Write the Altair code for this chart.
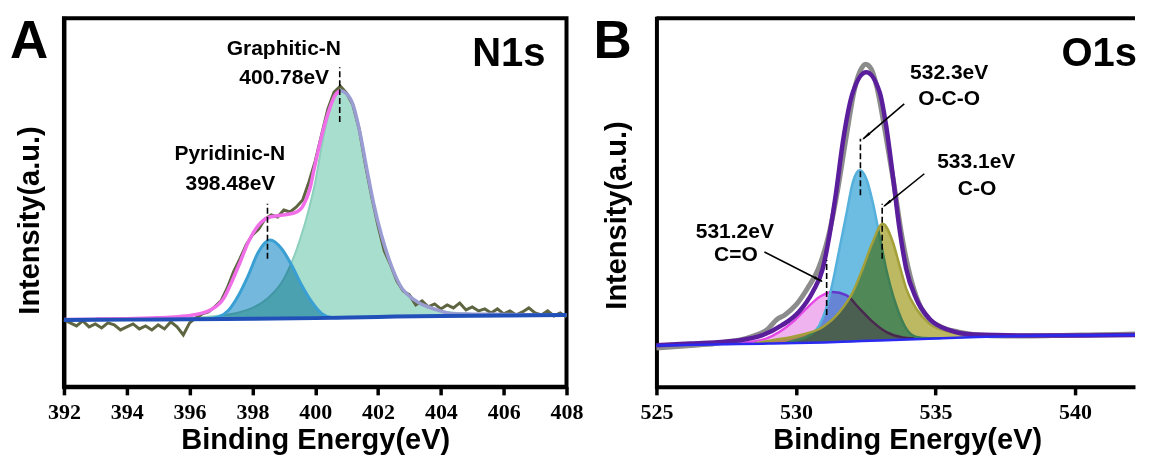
import math
import altair as alt
import pandas as pd

# ---------------- Panel A : N1s ----------------
A_XDOM = [392, 408]
A_XTICKS = [392, 394, 396, 398, 400, 402, 404, 406, 408]
A_WIDTH = 503
H = 369
Y_DOM = [0, 369]

A_BASE = [(392.0, 67.0), (394.0, 67.3), (396.0, 67.7), (398.0, 68.2), (400.0, 68.8),
          (402.0, 70.0), (404.0, 71.0), (406.0, 71.5), (408.0, 72.0)]

A_RAW = [(392.0, 67), (392.2, 64), (392.4, 61), (392.6, 66), (392.8, 60), (393.0, 63),
         (393.2, 59), (393.4, 64), (393.6, 62), (393.8, 57), (394.0, 60), (394.2, 63),
         (394.4, 58), (394.6, 61), (394.8, 57), (395.0, 62), (395.2, 58), (395.4, 65),
         (395.6, 60), (395.8, 52), (396.0, 64), (396.2, 69), (396.4, 73), (396.6, 75),
         (396.8, 80), (397.0, 86), (397.2, 99), (397.4, 115), (397.6, 128), (397.8, 142),
         (398.0, 152), (398.2, 158), (398.4, 168), (398.6, 172), (398.8, 170), (399.0, 177),
         (399.2, 175), (399.4, 180), (399.6, 187), (399.8, 205), (400.0, 226), (400.2, 252),
         (400.4, 278), (400.6, 295), (400.8, 301), (401.0, 294), (401.2, 282), (401.4, 258),
         (401.6, 222), (401.8, 190), (402.0, 161), (402.2, 136), (402.4, 122), (402.6, 106),
         (402.8, 96), (403.0, 92), (403.2, 82), (403.4, 86), (403.6, 80), (403.8, 83),
         (404.0, 78), (404.2, 82), (404.4, 79), (404.6, 84), (404.8, 77), (405.0, 80),
         (405.2, 76), (405.4, 78), (405.6, 74), (405.8, 78), (406.0, 73), (406.2, 76),
         (406.4, 72), (406.6, 75), (406.8, 79), (407.0, 74), (407.2, 72), (407.4, 76),
         (407.6, 71), (407.8, 74), (408.0, 70)]

A_ENV_LEFT = [(392.0, 67.5), (393.0, 67.8), (394.0, 68.3), (394.8, 69.0), (395.5, 70.0),
              (396.07, 71.7), (396.71, 77.7), (397.08, 88.3), (397.34, 105.0), (397.61, 125.0),
              (397.87, 145.0), (398.19, 161.7), (398.56, 170.0), (399.04, 172.3), (399.36, 174.3),
              (399.62, 181.7), (399.83, 198.3), (399.99, 221.7), (400.21, 251.7), (400.42, 275.0),
              (400.63, 291.7), (400.79, 296.7)]
A_ENV_RIGHT = [(400.79, 296.7), (401.0, 293.3), (401.21, 281.7), (401.42, 255.0), (401.64, 218.3),
               (401.85, 185.0), (402.11, 151.7), (402.38, 125.0), (402.7, 101.7), (403.17, 86.7),
               (403.81, 77.7), (404.34, 73.3), (405.0, 72.8), (406.0, 72.5), (408.0, 72.0)]

# (energy, component top, baseline under it)
A_GRAPHITIC = [(396.0, 69.0, 67.7), (396.5, 70.0, 67.8), (397.0, 71.5, 67.9), (397.5, 74.0, 68.0),
               (398.0, 79.0, 68.2), (398.5, 89.0, 68.3), (399.0, 108.0, 68.5), (399.5, 146.0, 68.6),
               (399.8, 178.0, 68.7), (400.0, 205.0, 68.8), (400.2, 240.0, 68.9), (400.4, 270.0, 69.0),
               (400.6, 290.0, 69.1), (400.78, 297.0, 69.2), (401.0, 293.0, 69.4), (401.2, 282.0, 69.5),
               (401.4, 257.0, 69.6), (401.6, 225.0, 69.7), (401.8, 192.0, 69.9), (402.0, 165.0, 70.0),
               (402.2, 140.0, 70.1), (402.4, 122.0, 70.2), (402.7, 102.0, 70.3), (403.0, 90.0, 70.5),
               (403.5, 81.0, 70.8), (404.0, 76.0, 71.0), (405.0, 73.0, 71.3), (406.0, 72.3, 71.5),
               (408.0, 72.0, 72.0)]
A_PYRIDINIC = [(396.6, 68.3, 67.8), (396.92, 70.0, 67.9), (397.24, 76.7, 67.9), (397.56, 91.7, 68.0),
               (397.87, 111.7, 68.1), (398.19, 135.0, 68.2), (398.56, 147.0, 68.3), (398.93, 138.3, 68.4),
               (399.25, 121.7, 68.5), (399.57, 101.7, 68.6), (399.89, 85.0, 68.7), (400.21, 73.3, 68.9),
               (400.52, 69.5, 69.0), (400.8, 69.2, 69.2)]

A_DASHES = [(398.48, 128.3, 183.3), (400.78, 265.0, 320.0)]
A_LABELS = [("Graphitic-N", 399.0, 332.5), ("400.78eV", 399.01, 303.5),
            ("Pyridinic-N", 397.28, 227.0), ("398.48eV", 397.30, 197.0)]

# ---------------- Panel B : O1s ----------------
B_XDOM = [525, 542.15]
B_XTICKS = [525, 530, 535, 540]
B_WIDTH = 479

B_BASE = [(525.0, 41.5), (527.0, 42.5), (529.0, 43.3), (530.0, 43.8), (531.0, 44.5), (532.0, 45.5),
          (533.0, 46.5), (534.0, 47.5), (535.0, 48.5), (536.5, 50.0), (538.0, 51.0), (540.0, 51.5),
          (542.15, 52.0)]
B_RAW = [(525.0, 39), (525.5, 40), (526.0, 41), (526.5, 42), (527.0, 43), (527.5, 45), (528.0, 47),
         (528.5, 51), (529.0, 58), (529.3, 67), (529.6, 72), (530.0, 82), (530.4, 98), (530.8, 118),
         (531.2, 155), (531.5, 198), (531.8, 250), (532.1, 298), (532.3, 316), (532.5, 323),
         (532.7, 318), (532.9, 300), (533.2, 255), (533.5, 205), (533.8, 150), (534.1, 110),
         (534.4, 84), (534.8, 67), (535.2, 60), (535.8, 55), (536.5, 52), (537.5, 51), (538.5, 51),
         (539.5, 51.5), (540.5, 52), (541.5, 52.5), (542.15, 52.8)]
B_ENV = [(525.0, 41.7), (526.2, 43.3), (528.0, 46.7), (528.8, 51.7), (529.5, 61.7), (530.1, 75.0),
         (530.6, 95.0), (530.96, 118.3), (531.2, 151.7), (531.44, 195.0), (531.68, 245.0),
         (532.04, 295.0), (532.52, 315.0), (533.0, 295.0), (533.23, 261.7), (533.47, 211.7),
         (533.71, 158.3), (533.95, 118.3), (534.31, 88.3), (534.78, 68.3), (535.5, 56.7),
         (536.34, 52.3), (538.0, 51.5), (540.0, 51.5), (542.15, 52.0)]
B_CO_DOUBLE = [(527.5, 43.0, 42.8), (528.33, 45.0, 43.0), (528.93, 48.3, 43.3), (529.41, 55.0, 43.5),
               (529.89, 65.0, 43.7), (530.37, 78.3, 44.0), (530.84, 90.0, 44.4), (531.32, 95.0, 44.8),
               (531.8, 91.7, 45.3), (532.28, 78.3, 45.8), (532.75, 65.0, 46.3), (533.23, 55.0, 46.7),
               (533.83, 49.5, 47.3), (534.55, 48.2, 48.0)]
B_OCO = [(529.6, 43.8, 43.6), (530.0, 46.7, 43.8), (530.48, 51.7, 44.1), (530.84, 61.7, 44.4),
         (531.08, 78.3, 44.6), (531.32, 105.0, 44.8), (531.56, 138.3, 45.1), (531.8, 171.7, 45.3),
         (532.04, 205.0, 45.5), (532.28, 216.7, 45.8), (532.52, 208.3, 46.0), (532.75, 185.0, 46.3),
         (532.99, 151.7, 46.5), (533.23, 118.3, 46.7), (533.59, 81.7, 47.1), (533.95, 58.3, 47.5),
         (534.31, 50.0, 47.8), (534.78, 48.6, 48.3), (535.2, 48.7, 48.7)]
B_CO_SINGLE = [(528.5, 43.4, 43.1), (529.17, 46.7, 43.4), (530.13, 51.7, 43.9), (530.96, 60.0, 44.5),
               (531.56, 75.0, 45.1), (532.04, 95.0, 45.5), (532.39, 118.3, 45.9), (532.75, 145.0, 46.3),
               (533.11, 163.3, 46.6), (533.47, 145.0, 47.0), (533.71, 121.7, 47.2), (533.95, 98.3, 47.5),
               (534.31, 78.3, 47.8), (534.78, 63.3, 48.3), (535.5, 55.0, 49.0), (536.34, 51.7, 49.8),
               (536.94, 50.7, 50.3), (538.0, 51.2, 51.0)]
B_DASHES = [(531.1, 72.0, 127.0), (532.31, 191.7, 248.3), (533.09, 128.3, 183.3)]
B_ARROWS = [(528.87, 135.0, 530.93, 105.7), (533.88, 283.3, 532.41, 248.3), (534.60, 213.3, 533.16, 181.0)]
B_LABELS = [("531.2eV", 527.81, 148.5), ("C=O", 527.85, 126.0), ("532.3eV", 535.49, 308.3),
            ("O-C-O", 535.49, 282.0), ("533.1eV", 536.46, 219.0), ("C-O", 536.49, 192.5)]

SANS = "Liberation Sans"
SERIF = "Liberation Serif"


def xenc(dom, ticks, title_x=None):
    kw = dict(values=ticks, title="Binding Energy(eV)", labelFlush=False, grid=False,
              tickSize=8, tickWidth=3.5, tickColor="black", domainColor="black", domainWidth=4,
              labelFont=SERIF, labelFontSize=22, labelFontWeight="bold",
              labelColor="black", labelBaseline="alphabetic", labelPadding=24,
              titleFont=SANS, titleFontSize=29, titleFontWeight="bold", titleColor="black",
              titleBaseline="alphabetic", titleY=62)
    if title_x is not None:
        kw["titleX"] = title_x
    return alt.X("E:Q", scale=alt.Scale(domain=dom, nice=False, zero=False), axis=alt.Axis(**kw))


def yenc(field, title_x, title_y):
    return alt.Y(field + ":Q", scale=alt.Scale(domain=Y_DOM, nice=False, zero=False),
                 axis=alt.Axis(title="Intensity(a.u.)", labels=False, ticks=False, grid=False,
                               domainColor="black", domainWidth=4, domainCap="square",
                               titleFont=SANS, titleFontSize=29, titleFontWeight="bold",
                               titleColor="black", titleAngle=270, titleAlign="center",
                               titleBaseline="alphabetic", titleX=title_x, titleY=title_y))


def line_df(pairs):
    return pd.DataFrame(pairs, columns=["E", "I"])


def band_df(triples):
    return pd.DataFrame(triples, columns=["E", "I", "B"])


def panel(dom, ticks, width, tx, ty, title_x, comps, raw, raw_style, envs, base, base_style,
          dashes, labels, arrows, letter, letter_x, core, core_x, frame):
    X = xenc(dom, ticks, title_x)
    Y = lambda f="I": yenc(f, tx, ty)
    layers = []
    for trip, fill, stroke, sw in comps:
        d = band_df(trip)
        layers.append(alt.Chart(d).mark_area(color=fill, blend="multiply", interpolate="monotone")
                      .encode(x=X, y=Y(), y2="B:Q"))
        layers.append(alt.Chart(d).mark_line(color=stroke, strokeWidth=sw, interpolate="monotone")
                      .encode(x=X, y=Y()))
    layers.append(alt.Chart(line_df(raw)).mark_line(**raw_style).encode(x=X, y=Y()))
    for pts, col, sw in envs:
        layers.append(alt.Chart(line_df(pts)).mark_line(color=col, strokeWidth=sw,
                                                         interpolate="monotone")
                      .encode(x=X, y=Y()))
    layers.append(alt.Chart(line_df(base)).mark_line(interpolate="monotone", **base_style)
                  .encode(x=X, y=Y()))
    dd = pd.DataFrame(dashes, columns=["E", "I", "I2"])
    layers.append(alt.Chart(dd).mark_rule(color="black", strokeWidth=1.6, strokeDash=[6, 3])
                  .encode(x=X, y=Y(), y2="I2:Q"))
    if arrows:
        pxe = width / (dom[1] - dom[0])
        pxi = H / (Y_DOM[1] - Y_DOM[0])
        rows, heads = [], []
        for e1, i1, e2, i2 in arrows:
            dx = (e2 - e1) * pxe
            dy = (i2 - i1) * pxi
            L = math.hypot(dx, dy)
            ang = math.degrees(math.atan2(dx, dy)) % 360
            rows.append({"E": e1, "I": i1, "E2": e2, "I2": i2})
            heads.append({"E": e2 - dx / L * 5 / pxe, "I": i2 - dy / L * 5 / pxi, "ang": ang})
        layers.append(alt.Chart(pd.DataFrame(rows)).mark_rule(color="black", strokeWidth=1.6)
                      .encode(x=X, y=Y(), x2="E2:Q", y2="I2:Q"))
        layers.append(alt.Chart(pd.DataFrame(heads)).mark_point(shape="wedge", filled=True,
                                                                 color="black", size=130, opacity=1)
                      .encode(x=X, y=Y(), angle=alt.Angle("ang:Q", scale=None)))
    ld = pd.DataFrame(labels, columns=["t", "E", "I"])
    layers.append(alt.Chart(ld).mark_text(font=SANS, fontWeight="bold", fontSize=21, color="black",
                                          align="center", baseline="alphabetic")
                  .encode(x=X, y=Y(), text="t:N"))
    layers.append(alt.Chart(pd.DataFrame({"t": [letter]})).mark_text(
        font=SANS, fontWeight="bold", fontSize=53, color="black", align="left",
        baseline="alphabetic").encode(x=alt.value(letter_x), y=alt.value(40), text="t:N"))
    layers.append(alt.Chart(pd.DataFrame({"t": [core]})).mark_text(
        font=SANS, fontWeight="bold", fontSize=40, color="black", align="right",
        baseline="alphabetic").encode(x=alt.value(core_x), y=alt.value(48), text="t:N"))
    if frame is None:
        layers.append(alt.Chart(pd.DataFrame({"t": [0]})).mark_rule(
            color="black", strokeWidth=4).encode(
            x=alt.value(0), x2=alt.value(width), y=alt.value(0)))
        view = alt.ViewBackground(strokeOpacity=0)
    else:
        view = alt.ViewBackground(stroke="black", strokeWidth=4)
    return alt.layer(*layers).properties(width=width, height=H, view=view)


chartA = panel(
    A_XDOM, A_XTICKS, A_WIDTH, -25, 202, None,
    [(A_GRAPHITIC, "#a7decd", "#8ccfbd", 2), (A_PYRIDINIC, "#74b9dd", "#3a9fd3", 3)],
    A_RAW, dict(color="#5e6541", strokeWidth=3),
    [(A_ENV_LEFT, "#f06ee8", 3.5), (A_ENV_RIGHT, "#9a9dd2", 3.5)],
    A_BASE, dict(color="#2050b8", strokeWidth=4),
    A_DASHES, A_LABELS, None, "A", -54, "N1s", 482, True)

chartB = panel(
    B_XDOM, B_XTICKS, B_WIDTH, -31, 197, 251,
    [(B_CO_DOUBLE, "#efb4ef", "#e64ae6", 2.5), (B_OCO, "#6dbde3", "#55b0dc", 2.5),
     (B_CO_SINGLE, "#bdb862", "#a3a03a", 2.5)],
    B_RAW, dict(color="#8c8c8c", strokeWidth=5, interpolate="monotone"),
    [(B_ENV, "#5a1e9c", 4.5)],
    B_BASE, dict(color="#2a2af0", strokeWidth=2.5),
    B_DASHES, B_LABELS, B_ARROWS, "B", -63, "O1s", 481, None)

chart = alt.hconcat(chartA, chartB, spacing=8).properties(
    padding={"left": 0, "top": 6, "right": 0, "bottom": 0}
).configure(background="white")

chart.save("out.html", embed_options={"renderer": "svg", "actions": False})
